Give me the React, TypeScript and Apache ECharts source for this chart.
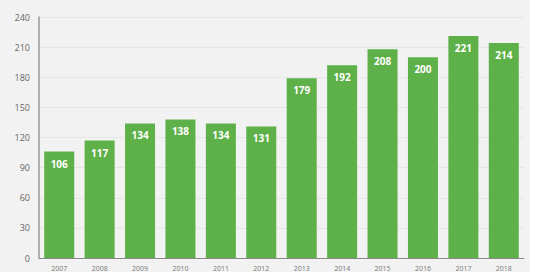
import React, { useEffect, useRef } from "react";
import * as echarts from "echarts";

const years = ["2007", "2008", "2009", "2010", "2011", "2012", "2013", "2014", "2015", "2016", "2017", "2018"];
const values = [106, 117, 134, 138, 134, 131, 179, 192, 208, 200, 221, 214];

export default function App() {
  const ref = useRef<HTMLDivElement>(null);
  useEffect(() => {
    if (!ref.current) return;
    const chart = echarts.init(ref.current, null, { renderer: "svg" });
    chart.setOption({
      animation: false,
      backgroundColor: "transparent",
      graphic: [
        { type: "rect", left: 0, top: 0, shape: { width: 530, height: 272 }, style: { fill: "#f2f2f2" }, z: -10, silent: true },
      ],
      grid: { left: 39, right: 16, top: 17, bottom: 12, containLabel: false },
      xAxis: {
        type: "category",
        data: years,
        axisLine: { show: true, lineStyle: { color: "#8a8a8a", width: 1 } },
        axisTick: { show: false },
        axisLabel: { color: "#777", fontSize: 7, margin: 7, fontFamily: "Open Sans" },
      },
      yAxis: {
        type: "value",
        min: 0,
        max: 240,
        interval: 30,
        axisLine: { show: true, lineStyle: { color: "#9a9a9a", width: 1.5 } },
        axisTick: { show: false },
        splitLine: { lineStyle: { color: "#e6e6e6", width: 1 } },
        axisLabel: { color: "#666", fontSize: 9, margin: 9, fontFamily: "Open Sans" },
      },
      series: [
        {
          type: "bar",
          data: values,
          barWidth: 30,
          itemStyle: { color: "#5eb048" },
          label: {
            show: true,
            position: "insideTop",
            distance: 7,
            color: "#ffffff",
            fontSize: 10,
            fontWeight: "bold",
            fontFamily: "Open Sans",
          },
        },
      ],
    });
    return () => chart.dispose();
  }, []);
  return (
    <div
      ref={ref}
      style={{ position: "fixed", left: 0, top: 0, width: 540, height: 272, background: "#ffffff" }}
    />
  );
}
